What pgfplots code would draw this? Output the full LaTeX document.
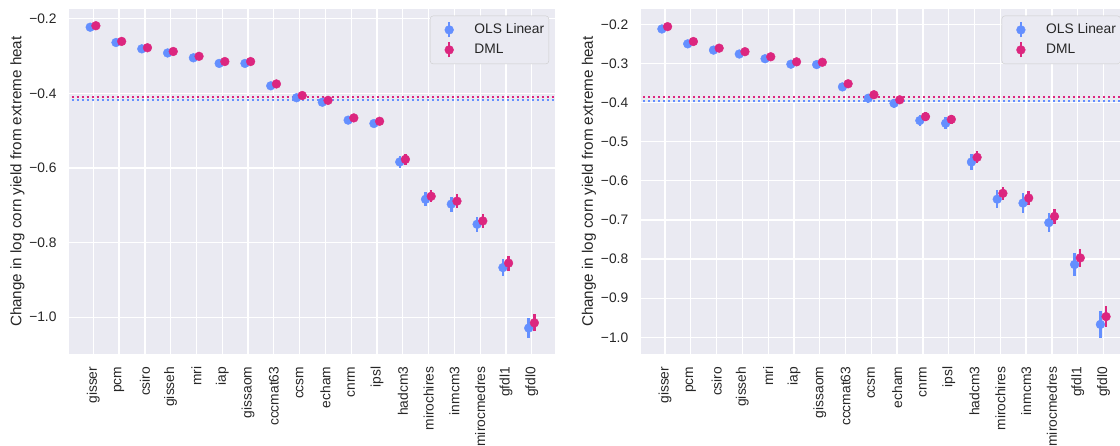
\documentclass[border=0pt]{standalone}
\usepackage{pgfplots}
\pgfplotsset{compat=1.18}
\usepackage{pgfplotstable}
\usepackage{fontspec}
\setmainfont{Liberation Sans}
\definecolor{olsblue}{HTML}{648FFF}
\definecolor{dmlpink}{HTML}{DC267F}
\definecolor{bgc}{HTML}{EAEAF2}
\definecolor{txt}{HTML}{262626}
\definecolor{legedge}{HTML}{CCCCCC}

\pgfplotstableread{
x ols olse dml dmle
0 -0.223 0.005 -0.219 0.005
1 -0.264 0.005 -0.261 0.005
2 -0.281 0.005 -0.278 0.005
3 -0.292 0.005 -0.288 0.005
4 -0.305 0.006 -0.301 0.005
5 -0.320 0.006 -0.315 0.005
6 -0.320 0.006 -0.315 0.005
7 -0.380 0.008 -0.375 0.007
8 -0.412 0.009 -0.406 0.008
9 -0.424 0.009 -0.419 0.008
10 -0.472 0.010 -0.466 0.009
11 -0.481 0.010 -0.475 0.009
12 -0.584 0.016 -0.577 0.015
13 -0.684 0.019 -0.676 0.016
14 -0.697 0.020 -0.689 0.018
15 -0.751 0.020 -0.742 0.018
16 -0.867 0.023 -0.855 0.020
17 -1.029 0.026 -1.015 0.023
}\leftdata

\pgfplotstableread{
x ols olse dml dmle
0 -0.212 0.006 -0.206 0.005
1 -0.250 0.006 -0.244 0.005
2 -0.266 0.006 -0.261 0.005
3 -0.276 0.006 -0.270 0.005
4 -0.288 0.007 -0.283 0.006
5 -0.302 0.007 -0.296 0.006
6 -0.303 0.007 -0.297 0.006
7 -0.360 0.010 -0.352 0.008
8 -0.389 0.012 -0.380 0.009
9 -0.402 0.012 -0.393 0.009
10 -0.446 0.015 -0.436 0.011
11 -0.453 0.015 -0.443 0.011
12 -0.552 0.020 -0.540 0.015
13 -0.647 0.023 -0.632 0.017
14 -0.657 0.025 -0.644 0.018
15 -0.707 0.025 -0.691 0.020
16 -0.814 0.030 -0.797 0.022
17 -0.967 0.035 -0.947 0.027
}\rightdata

\newcommand{\fs}{\fontsize{13.8}{16.5}\selectfont}
\newcommand{\fsl}{\fontsize{15.2}{18}\selectfont}

\pgfplotsset{
  panel/.style={
    scale only axis, width=485.7pt, height=344.7pt,
    xmin=-0.93, xmax=17.9,
    axis background/.style={fill=bgc},
    axis line style={draw=none},
    major tick length=0pt,
    grid=major, grid style={white, line width=1.3pt},
    xtick={0,...,17},
    xticklabels={gisser,pcm,csiro,gisseh,mri,iap,gissaom,cccmat63,ccsm,echam,cnrm,ipsl,hadcm3,mirochires,inmcm3,mirocmedres,gfdl1,gfdl0},
    xticklabel style={rotate=90, anchor=east, inner sep=0pt, font=\fs, text=txt},
    yticklabel style={anchor=east, inner sep=0pt, font=\fs, text=txt},
    xticklabel shift=12.6pt, yticklabel shift=12.6pt,
    ylabel={Change in log corn yield from extreme heat},
    ylabel style={at={(axis description cs:-0.092,0.5)}, anchor=south, inner sep=0pt, font=\fsl, text=txt},
    legend style={at={(1,1)}, anchor=north east, xshift=-6pt, yshift=-6.4pt,
      fill=bgc, draw=legedge, rounded corners=3pt, font=\fs, text=txt,
      inner xsep=0pt, inner ysep=4pt, row sep=0pt,
      nodes={text height=10pt, text depth=3pt, inner ysep=3.5pt, inner xsep=4.6pt},
      /tikz/every odd column/.style={column sep=16pt}},
    legend cell align=left,
  },
  olsplot/.style={only marks, mark=*, mark size=4.4pt, color=olsblue,
    mark options={fill=olsblue, draw=olsblue},
    error bars/y dir=both, error bars/y explicit, error bars/error mark=none,
    error bars/error bar style={line width=2.4pt, olsblue},
    legend image code/.code={
    \path[draw=none, fill=none] (-19pt,-0.5pt) rectangle (4.4pt,0.5pt);
    \draw[olsblue, line width=2.4pt] (0pt,-7.5pt) -- (0pt,7.5pt);
    \fill[olsblue] (0pt,0pt) circle (4.4pt);}},
  dmlplot/.style={only marks, mark=*, mark size=4.4pt, color=dmlpink,
    mark options={fill=dmlpink, draw=dmlpink},
    error bars/y dir=both, error bars/y explicit, error bars/error mark=none,
    error bars/error bar style={line width=2.4pt, dmlpink},
    legend image code/.code={
    \path[draw=none, fill=none] (-19pt,-0.5pt) rectangle (4.4pt,0.5pt);
    \draw[dmlpink, line width=2.4pt] (0pt,-7.5pt) -- (0pt,7.5pt);
    \fill[dmlpink] (0pt,0pt) circle (4.4pt);}},
}

\begin{document}
\begin{tikzpicture}
\begin{axis}[panel, at={(69.3pt,92pt)}, anchor=south west,
  ymin=-1.0985, ymax=-0.175,
  ytick={-1,-0.8,-0.6,-0.4,-0.2},
  yticklabels={−1.0,−0.8,−0.6,−0.4,−0.2}]
\addplot[olsblue, line width=2pt, dash pattern=on 2pt off 3pt, forget plot] coordinates {(-2,-0.417) (19,-0.417)};
\addplot[dmlpink, line width=2pt, dash pattern=on 2pt off 3pt, forget plot] coordinates {(-2,-0.409) (19,-0.409)};
\addplot[olsplot] table[x expr=\thisrow{x}-0.12, y=ols, y error=olse] {\leftdata};
\addlegendentry{OLS Linear}
\addplot[dmlplot] table[x expr=\thisrow{x}+0.1, y=dml, y error=dmle] {\leftdata};
\addlegendentry{DML}
\end{axis}
\begin{axis}[panel, at={(641pt,92pt)}, anchor=south west,
  ymin=-1.0426, ymax=-0.1617,
  ytick={-1,-0.9,-0.8,-0.7,-0.6,-0.5,-0.4,-0.3,-0.2},
  yticklabels={−1.0,−0.9,−0.8,−0.7,−0.6,−0.5,−0.4,−0.3,−0.2}]
\addplot[olsblue, line width=2pt, dash pattern=on 2pt off 3pt, forget plot] coordinates {(-2,-0.395) (19,-0.395)};
\addplot[dmlpink, line width=2pt, dash pattern=on 2pt off 3pt, forget plot] coordinates {(-2,-0.386) (19,-0.386)};
\addplot[olsplot] table[x expr=\thisrow{x}-0.12, y=ols, y error=olse] {\rightdata};
\addlegendentry{OLS Linear}
\addplot[dmlplot] table[x expr=\thisrow{x}+0.1, y=dml, y error=dmle] {\rightdata};
\addlegendentry{DML}
\end{axis}
\pgfresetboundingbox
\path[use as bounding box] (0,0) rectangle (1120pt,446pt);
\end{tikzpicture}
\end{document}
